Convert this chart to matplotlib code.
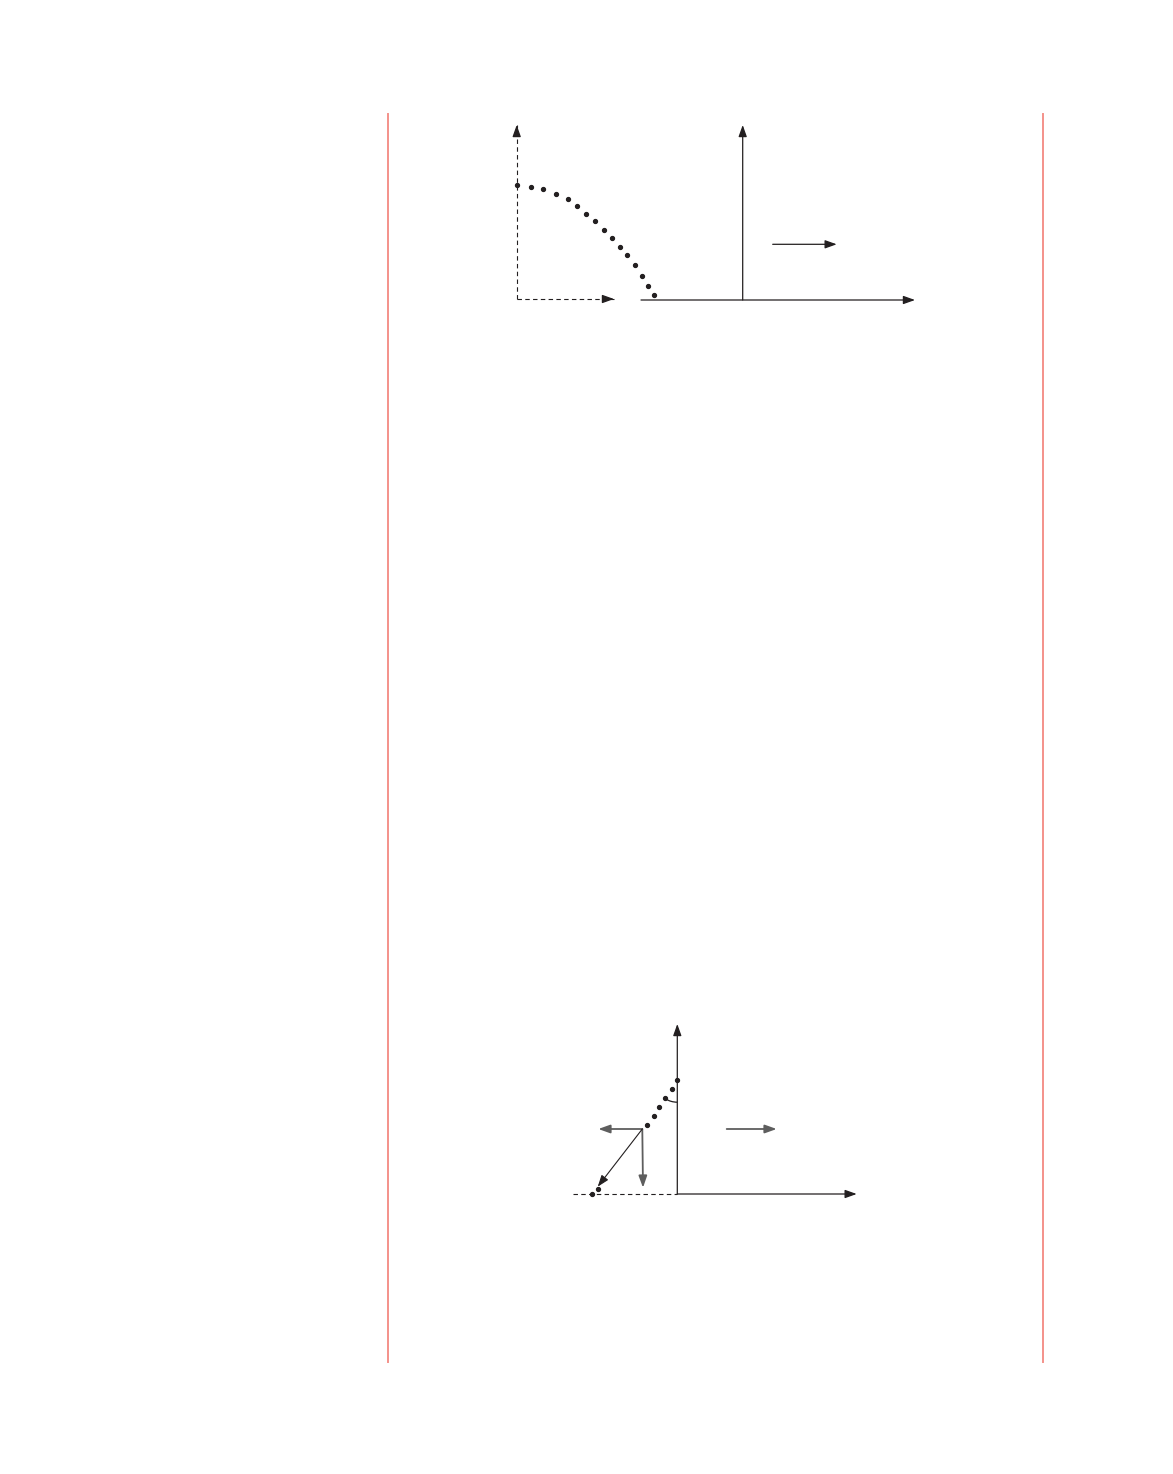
import matplotlib
matplotlib.use("Agg")
import matplotlib.pyplot as plt
from matplotlib.patches import Arc

W, H = 1173, 1474
INK = "#231f20"
GREY = "#5e5e5e"
RED = "#f4928a"

# margin rules (x, y_top, y_bottom)
margin_x = [388, 1043]
margin_y = [114, 1362]

# ---- top diagram ----
top_dots_x = [516.7, 531.3, 543.3, 556.3, 567.7, 576.7, 586.3, 595.0, 604.0,
              612.3, 619.7, 627.0, 634.7, 642.0, 648.0, 653.7]
top_dots_y = [185.3, 187.3, 189.3, 193.7, 199.3, 206.0, 214.0, 221.3, 230.0,
              238.0, 246.7, 255.3, 265.3, 275.7, 285.7, 295.3]
# solid arrows: (x0, y0, x1, y1)
top_solid = [(641, 300, 915, 300), (742.7, 300, 742.7, 125), (772.7, 244.3, 836.7, 244.3)]
top_dashed = [(516.7, 299, 516.7, 125), (516.7, 299, 614, 299)]

# ---- bottom diagram ----
bot_dots_x = [677.3, 671.7, 665.3, 659.3, 653.7, 647.3, 597.7, 592.0]
bot_dots_y = [1079.7, 1089.0, 1097.7, 1107.3, 1116.0, 1125.0, 1189.0, 1194.3]
bot_axes = [(677.3, 1194, 677.3, 1024), (677.3, 1194, 856.7, 1194)]
bot_grey = [(642.3, 1129, 598.3, 1129), (642.3, 1129, 643, 1187.7), (726.7, 1129, 776.7, 1129)]
bot_thin = [(642.3, 1129, 597.7, 1186.7)]
bot_dashed = [(573, 1194, 677.3, 1194)]
arc_center = (677.3, 1079.7)
arc_radius = 22.5
arc_angles = (90, 123.5)

fig = plt.figure(figsize=(W / 100, H / 100), dpi=100)
ax = fig.add_axes([0, 0, 1, 1])
ax.set_xlim(0, W)
ax.set_ylim(H, 0)
ax.axis("off")


def arrow(x0, y0, x1, y1, color=INK, lw=0.9):
    ax.annotate("", xy=(x1, y1), xytext=(x0, y0),
                arrowprops=dict(arrowstyle="-|>,head_length=0.7,head_width=0.25",
                                color=color, lw=lw, shrinkA=0, shrinkB=0,
                                mutation_scale=10))


def dashed_arrow(x0, y0, x1, y1, color=INK):
    ax.plot([x0, x1], [y0, y1], color=color, lw=0.8, linestyle=(0, (4, 3)))
    dx, dy = x1 - x0, y1 - y0
    n = (dx ** 2 + dy ** 2) ** 0.5
    hx, hy = x1 - dx / n * 10, y1 - dy / n * 10
    arrow(hx, hy, x1, y1, color=color)


# margins
for mx in margin_x:
    ax.plot([mx, mx], margin_y, color=RED, lw=1.4)

# top
for seg in top_solid:
    arrow(*seg)
for seg in top_dashed:
    dashed_arrow(*seg)
ax.plot(top_dots_x, top_dots_y, "o", color=INK, ms=2.8, ls="none")

# bottom
for seg in bot_axes:
    arrow(*seg)
for seg in bot_grey:
    arrow(*seg, color=GREY, lw=1.3)
for seg in bot_thin:
    arrow(*seg, lw=0.8)
for x0, y0, x1, y1 in bot_dashed:
    ax.plot([x0, x1], [y0, y1], color=INK, lw=0.8, linestyle=(0, (4, 3)))
ax.plot(bot_dots_x, bot_dots_y, "o", color=INK, ms=2.8, ls="none")
ax.add_patch(Arc(arc_center, 2 * arc_radius, 2 * arc_radius,
                 theta1=arc_angles[0], theta2=arc_angles[1], color=INK, lw=0.9))

fig.savefig("out.png", dpi=100)
